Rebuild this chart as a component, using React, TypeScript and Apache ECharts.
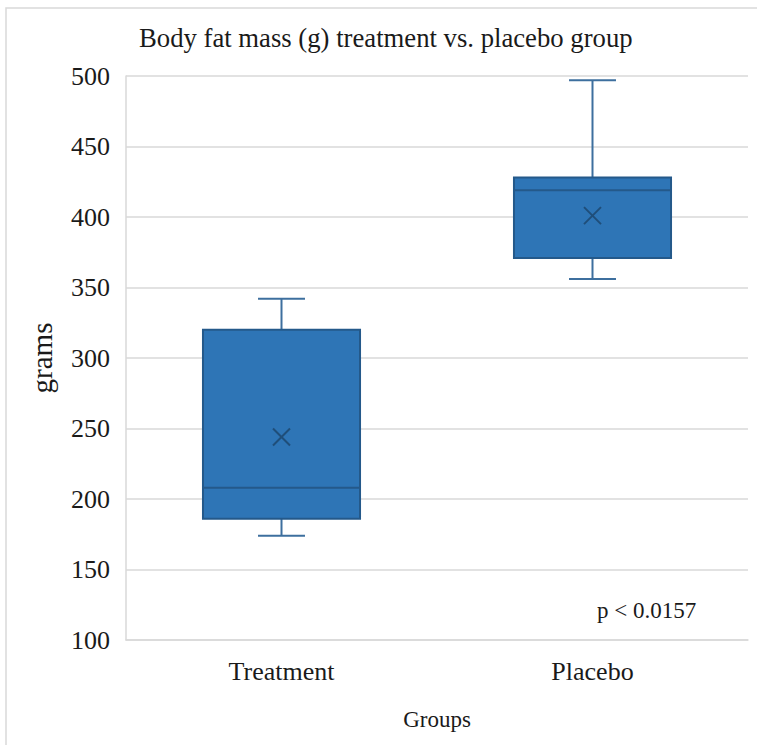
import React, { useEffect, useRef } from "react";
import * as echarts from "echarts";

const categories = ["Treatment", "Placebo"];
const minValues = [174, 356];
const q1Values = [186, 371];
const medianValues = [208, 419];
const q3Values = [320, 428];
const maxValues = [342, 497];
const meanValues = [244, 401];
const yTicks = { min: 100, max: 500, interval: 50 };

const FONT = '"Liberation Serif", "Times New Roman", serif';
const BOX_FILL = "#2E75B6";
const BOX_BORDER = "#24598a";
const WHISKER = "#3d6f9e";
const MEAN_COLOR = "#1f4e79";

export default function App() {
  const ref = useRef<HTMLDivElement>(null);
  useEffect(() => {
    if (!ref.current) return;
    const chart = echarts.init(ref.current, null, { renderer: "svg" });
    const data = categories.map((_, i) => [
      i,
      minValues[i],
      q1Values[i],
      medianValues[i],
      q3Values[i],
      maxValues[i],
      meanValues[i],
    ]);
    const option: any = {
      animation: false,
      backgroundColor: "#ffffff",
      title: {
        text: "Body fat mass (g) treatment vs. placebo group",
        left: 139,
        top: 24,
        padding: 0,
        textStyle: { fontFamily: FONT, fontSize: 26.7, fontWeight: "normal", color: "#1a1a1a" },
      },
      grid: { left: 126, right: 9, top: 76, bottom: 105, containLabel: false },
      xAxis: {
        type: "category",
        data: categories,
        boundaryGap: true,
        name: "Groups",
        nameLocation: "middle",
        nameGap: 68,
        nameTextStyle: { fontFamily: FONT, fontSize: 23, color: "#1a1a1a" },
        axisLine: { show: true, lineStyle: { color: "#d9d9d9", width: 1.5 } },
        axisTick: { show: false },
        axisLabel: { fontFamily: FONT, fontSize: 26, color: "#1a1a1a", margin: 18 },
        splitLine: { show: false },
      },
      yAxis: {
        type: "value",
        min: yTicks.min,
        max: yTicks.max,
        interval: yTicks.interval,
        name: "grams",
        nameLocation: "middle",
        nameGap: 70,
        nameRotate: 90,
        nameTextStyle: { fontFamily: FONT, fontSize: 29, color: "#1a1a1a" },
        axisLine: { show: true, lineStyle: { color: "#d9d9d9", width: 1.5 } },
        axisTick: { show: false },
        axisLabel: { fontFamily: FONT, fontSize: 26, color: "#1a1a1a", margin: 16 },
        splitLine: { show: true, lineStyle: { color: "#d9d9d9", width: 1.5 } },
      },
      graphic: [
        {
          type: "rect",
          shape: { x: 6, y: 8, width: 800, height: 800 },
          style: { fill: "none", stroke: "#d9d9d9", lineWidth: 1.5 },
          silent: true,
          z: -10,
        },
        {
          type: "text",
          x: 597,
          y: 610,
          style: {
            text: "p < 0.0157",
            fontFamily: FONT,
            fontSize: 23,
            fill: "#1a1a1a",
            verticalAlign: "middle",
            align: "left",
          },
        },
      ],
      series: [
        {
          type: "custom",
          data,
          encode: { x: 0, y: [1, 2, 3, 4, 5, 6] },
          renderItem: (params: any, api: any) => {
            const idx = api.value(0);
            const band = api.size([1, 0])[0];
            const pMin = api.coord([idx, api.value(1)]);
            const pQ1 = api.coord([idx, api.value(2)]);
            const pMed = api.coord([idx, api.value(3)]);
            const pQ3 = api.coord([idx, api.value(4)]);
            const pMax = api.coord([idx, api.value(5)]);
            const pMean = api.coord([idx, api.value(6)]);
            const cx = pMed[0];
            const boxW = band * 0.505;
            const capW = band * 0.151;
            const m = 8.5;
            const wStyle = { stroke: WHISKER, lineWidth: 2 };
            return {
              type: "group",
              children: [
                { type: "line", shape: { x1: cx, y1: pMax[1], x2: cx, y2: pQ3[1] }, style: wStyle },
                { type: "line", shape: { x1: cx, y1: pQ1[1], x2: cx, y2: pMin[1] }, style: wStyle },
                { type: "line", shape: { x1: cx - capW / 2, y1: pMax[1], x2: cx + capW / 2, y2: pMax[1] }, style: wStyle },
                { type: "line", shape: { x1: cx - capW / 2, y1: pMin[1], x2: cx + capW / 2, y2: pMin[1] }, style: wStyle },
                {
                  type: "rect",
                  shape: { x: cx - boxW / 2, y: pQ3[1], width: boxW, height: pQ1[1] - pQ3[1] },
                  style: { fill: BOX_FILL, stroke: BOX_BORDER, lineWidth: 2 },
                },
                {
                  type: "line",
                  shape: { x1: cx - boxW / 2, y1: pMed[1], x2: cx + boxW / 2, y2: pMed[1] },
                  style: { stroke: BOX_BORDER, lineWidth: 2 },
                },
                {
                  type: "line",
                  shape: { x1: pMean[0] - m, y1: pMean[1] - m, x2: pMean[0] + m, y2: pMean[1] + m },
                  style: { stroke: MEAN_COLOR, lineWidth: 2 },
                },
                {
                  type: "line",
                  shape: { x1: pMean[0] - m, y1: pMean[1] + m, x2: pMean[0] + m, y2: pMean[1] - m },
                  style: { stroke: MEAN_COLOR, lineWidth: 2 },
                },
              ],
            };
          },
        },
      ],
    };
    chart.setOption(option);
    return () => chart.dispose();
  }, []);
  return (
    <div
      ref={ref}
      style={{ position: "absolute", left: 0, top: 0, width: 757, height: 745 }}
    />
  );
}
